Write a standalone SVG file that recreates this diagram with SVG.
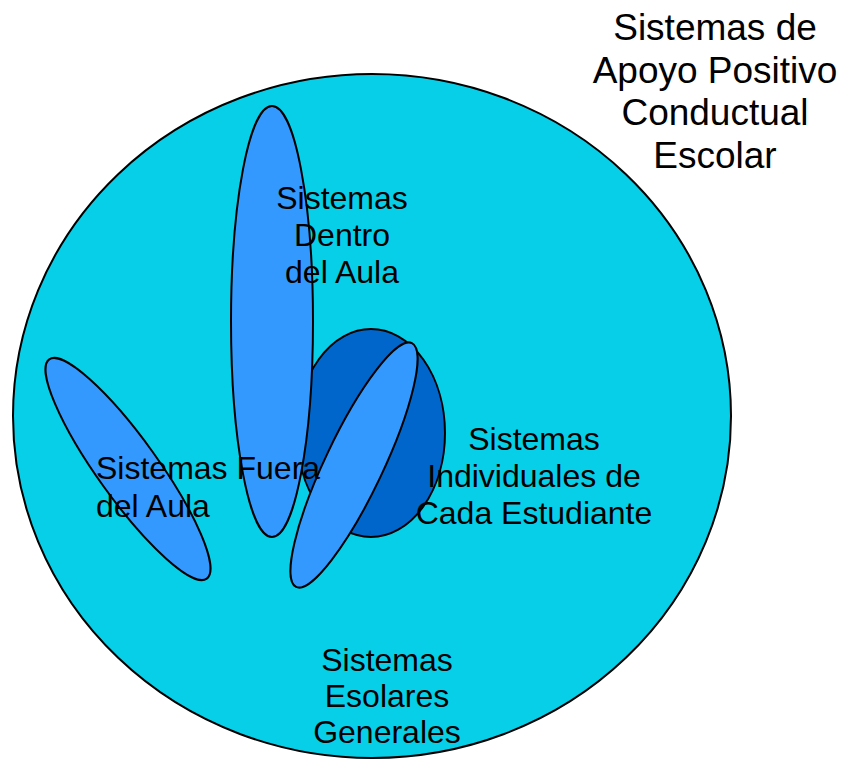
<svg xmlns="http://www.w3.org/2000/svg" width="847" height="760" viewBox="0 0 847 760">
  <style>
    .shape { stroke: #000000; stroke-width: 2; }
    .outer { fill: #07CFE8; }
    .light { fill: #3399FF; }
    .dark { fill: #0066CC; }
    .lbl { font-family: "Liberation Sans", Arial, sans-serif; font-size: 32px; fill: #000000; }
    .title { font-family: "Liberation Sans", Arial, sans-serif; font-size: 37px; fill: #000000; text-anchor: middle; }
  </style>
  <rect x="0" y="0" width="847" height="760" fill="#FFFFFF"/>
  <g id="escolares">
    <ellipse class="shape outer" cx="372" cy="416" rx="359" ry="342"/>
  </g>
  <g id="individuales">
    <ellipse class="shape dark" cx="371" cy="433" rx="74" ry="104"/>
  </g>
  <g id="dentro">
    <ellipse class="shape light" cx="272" cy="321.5" rx="41" ry="215.5"/>
  </g>
  <g id="fuera">
    <ellipse class="shape light" cx="128" cy="469" rx="135" ry="30" transform="rotate(54.3 128 469)"/>
  </g>
  <g id="derecha">
    <ellipse class="shape light" cx="354" cy="465" rx="135" ry="29" transform="rotate(-64.6 354 465)"/>
  </g>
  <g id="connectors"></g>
  <g id="labels">
    <text class="lbl" text-anchor="middle" x="342" y="209">Sistemas</text>
    <text class="lbl" text-anchor="middle" x="342" y="246">Dentro</text>
    <text class="lbl" text-anchor="middle" x="342" y="283">del Aula</text>
    <text class="lbl" text-anchor="start" x="96" y="479">Sistemas Fuera</text>
    <text class="lbl" text-anchor="start" x="96" y="517">del Aula</text>
    <text class="lbl" text-anchor="middle" x="534" y="450">Sistemas</text>
    <text class="lbl" text-anchor="middle" x="534" y="487">Individuales de</text>
    <text class="lbl" text-anchor="middle" x="534" y="524">Cada Estudiante</text>
    <text class="lbl" text-anchor="middle" x="387" y="671">Sistemas</text>
    <text class="lbl" text-anchor="middle" x="387" y="707">Esolares</text>
    <text class="lbl" text-anchor="middle" x="387" y="743">Generales</text>
  </g>
  <g id="title">
    <text class="title" x="715" y="40">Sistemas de</text>
    <text class="title" x="715" y="83">Apoyo Positivo</text>
    <text class="title" x="715" y="125">Conductual</text>
    <text class="title" x="715" y="168">Escolar</text>
  </g>
</svg>
